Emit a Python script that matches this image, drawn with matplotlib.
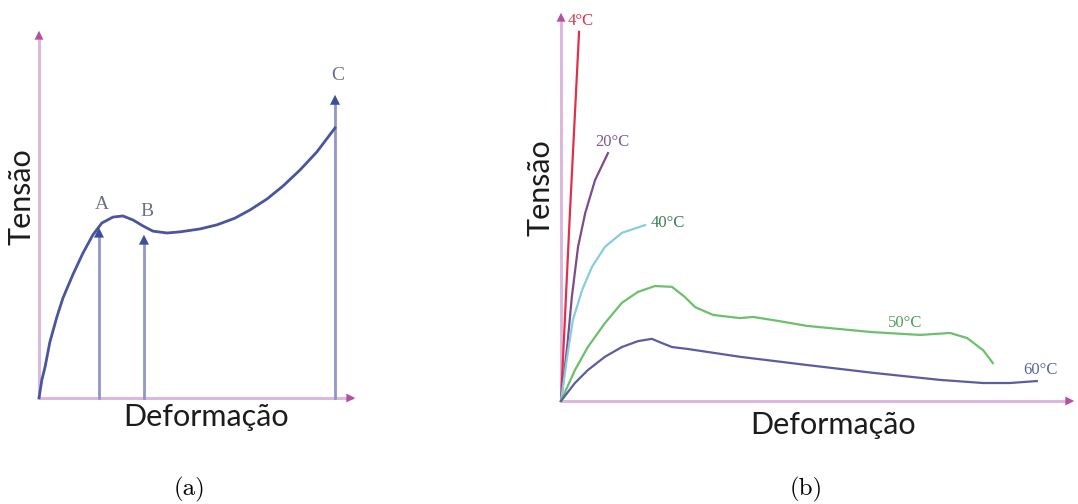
import matplotlib.pyplot as plt

# ======================================
# (a) curva tensão x deformação (unidades relativas ao eixo)
a_x = [0, 0.009, 0.019, 0.034, 0.056, 0.075, 0.107, 0.138, 0.169, 0.197, 0.232,
       0.263, 0.295, 0.326, 0.357, 0.401, 0.442, 0.505, 0.558, 0.614, 0.661,
       0.715, 0.765, 0.818, 0.871, 0.928]
a_y = [0, 0.049, 0.084, 0.151, 0.219, 0.270, 0.335, 0.392, 0.441, 0.473, 0.489,
       0.492, 0.481, 0.465, 0.451, 0.446, 0.449, 0.457, 0.468, 0.486, 0.508,
       0.538, 0.573, 0.616, 0.665, 0.730]
a_marks = ['A', 'B', 'C']
a_mark_x = [0.188, 0.329, 0.928]
a_mark_tip = [0.468, 0.449, 0.827]

# (b) curvas para várias temperaturas
b_labels = ['4°C', '20°C', '40°C', '50°C', '60°C']
b_x = [
    [0, 0.017, 0.035],
    [0, 0.012, 0.021, 0.033, 0.047, 0.066, 0.091],
    [0, 0.012, 0.023, 0.041, 0.060, 0.085, 0.118, 0.163],
    [0, 0.027, 0.052, 0.085, 0.118, 0.149, 0.182, 0.215, 0.240, 0.260, 0.295,
     0.347, 0.372, 0.420, 0.477, 0.540, 0.605, 0.696, 0.754, 0.787, 0.818, 0.837],
    [0, 0.027, 0.052, 0.085, 0.118, 0.149, 0.176, 0.196, 0.215, 0.246, 0.347,
     0.477, 0.605, 0.734, 0.818, 0.870, 0.922],
]
b_y = [
    [0, 0.473, 0.944],
    [0, 0.138, 0.266, 0.394, 0.481, 0.565, 0.634],
    [0, 0.113, 0.207, 0.284, 0.343, 0.394, 0.430, 0.450],
    [0, 0.079, 0.138, 0.199, 0.251, 0.279, 0.294, 0.292, 0.266, 0.240, 0.220,
     0.212, 0.215, 0.205, 0.192, 0.184, 0.176, 0.169, 0.174, 0.161, 0.130, 0.097],
    [0, 0.046, 0.079, 0.113, 0.138, 0.153, 0.159, 0.148, 0.138, 0.133, 0.113,
     0.092, 0.072, 0.054, 0.046, 0.046, 0.051],
]
b_label_pos = [(0.039, 0.972), (0.099, 0.662), (0.207, 0.455), (0.667, 0.199), (0.930, 0.079)]
# ======================================

line_colors = ['#e0304c', '#7d4a8c', '#86cde0', '#6cc06c', '#5a5e9e']
text_colors = ['#d8354d', '#7d5a92', '#3d7f55', '#4f9f58', '#5b67a3']
axis_line = '#dcb8dc'
axis_head = '#b44fa3'

W, H = 1078, 504
fig = plt.figure(figsize=(W / 100, H / 100), dpi=100)


def px_axes(l, t, r, b):
    ax = fig.add_axes([l / W, 1 - b / H, (r - l) / W, (b - t) / H])
    ax.set_xlim(0, 1)
    ax.set_ylim(0, 1)
    ax.axis('off')
    return ax


def draw_axes_arrows(ax):
    ax.plot([0, 0.985], [0, 0], color=axis_line, lw=2.2, clip_on=False, solid_capstyle='butt')
    ax.plot([0, 0], [0, 0.975], color=axis_line, lw=2.2, clip_on=False, solid_capstyle='butt')
    ax.annotate('', xy=(1, 0), xytext=(0.97, 0),
                arrowprops=dict(arrowstyle='-|>', color=axis_head, lw=0, mutation_scale=16))
    ax.annotate('', xy=(0, 1), xytext=(0, 0.96),
                arrowprops=dict(arrowstyle='-|>', color=axis_head, lw=0, mutation_scale=16))


label_font = dict(family=['Lato', 'DejaVu Sans'], fontsize=22, color='#1c1c1c')
serif = ['Liberation Serif', 'DejaVu Serif']

# ----- (a)
axA = px_axes(39, 28, 358, 398)
draw_axes_arrows(axA)
for x, tip in zip(a_mark_x, a_mark_tip):
    axA.plot([x, x], [0, tip - 0.03], color='#9097c6', lw=2, clip_on=False)
    axA.annotate('', xy=(x, tip), xytext=(x, tip - 0.045),
                 arrowprops=dict(arrowstyle='-|>', color='#3c4f9e', lw=0, mutation_scale=18))
axA.plot(a_x, a_y, color='#4a559f', lw=2, clip_on=False, solid_joinstyle='round')
for m, x, tip in zip(a_marks, a_mark_x, a_mark_tip):
    dy = 0.055 if m != 'C' else 0.045
    axA.text(x + 0.01, tip + dy, m, ha='center', va='center', fontsize=14,
             family=serif, color='#6b7090')

fig.text(22 / W, 1 - 197 / H, 'Tensão', rotation=90, ha='center', va='center', **label_font)
fig.text(206 / W, 1 - 417 / H, 'Deformação', ha='center', va='center', **label_font)
fig.text(189 / W, 1 - 489 / H, '(a)', ha='center', va='center', fontsize=18, family='cmr10')

# ----- (b)
axB = px_axes(561, 10, 1077, 401)
draw_axes_arrows(axB)
for xs, ys, c in zip(b_x, b_y, line_colors):
    axB.plot(xs, ys, color=c, lw=1.6, clip_on=False, solid_joinstyle='round')
for lab, (lx, ly), c in zip(b_labels, b_label_pos, text_colors):
    axB.text(lx, ly, lab, ha='center', va='center', fontsize=12, family=serif, color=c)

fig.text(541 / W, 1 - 188 / H, 'Tensão', rotation=90, ha='center', va='center', **label_font)
fig.text(833 / W, 1 - 425 / H, 'Deformação', ha='center', va='center', **label_font)
fig.text(806 / W, 1 - 489 / H, '(b)', ha='center', va='center', fontsize=18, family='cmr10')

fig.savefig('out.png', dpi=100)
